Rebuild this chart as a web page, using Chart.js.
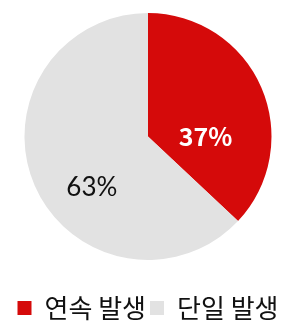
<!DOCTYPE html>
<html>
<head>
<meta charset="utf-8">
<script src="https://cdn.jsdelivr.net/npm/chart.js@4"></script>
<style>
  html, body { margin: 0; padding: 0; background: #fff; overflow: hidden; }
  /* 범례 아래 여백(10px)을 잘라내기 위해 캔버스를 조금 더 크게 */
  #wrap { width: 291px; height: 331px; }
</style>
</head>
<body>
<div id="wrap"><canvas id="pieChart"></canvas></div>
<script>
const categories = ['연속 발생', '단일 발생'];
const shares = [37, 63];
const sliceColors = ['#d50a0a', '#e2e2e2'];

// 조각 안쪽에 퍼센트 표시
const sliceLabels = {
    id: 'sliceLabels',
    afterDatasetsDraw(chart) {
        const ctx = chart.ctx;
        const arcs = chart.getDatasetMeta(0).data;
        // 반지름 대비 위치 (x, y)
        const spots = [[0.465, 0.0], [-0.455, 0.41]];
        arcs.forEach((arc, i) => {
            const r = arc.outerRadius;
            ctx.save();
            ctx.textAlign = 'center';
            ctx.textBaseline = 'middle';
            if (i === 0) {
                ctx.fillStyle = '#ffffff';
                ctx.font = 'bold 25px "Noto Sans CJK KR"';
            } else {
                ctx.fillStyle = '#111111';
                ctx.font = '26px Lato';
            }
            ctx.fillText(shares[i] + '%', arc.x + spots[i][0] * r, arc.y + spots[i][1] * r);
            ctx.restore();
        });
    }
};

document.addEventListener('DOMContentLoaded', () => {
    const ctx = document.getElementById('pieChart').getContext('2d');
    new Chart(ctx, {
        type: 'pie',
        data: {
            labels: categories,
            datasets: [{
                data: shares,
                backgroundColor: sliceColors,
                borderWidth: 0
            }]
        },
        options: {
            responsive: true,
            maintainAspectRatio: false,
            animation: false,
            layout: {
                padding: { top: 13, left: 5, right: 0, bottom: 0 }
            },
            plugins: {
                legend: {
                    position: 'bottom',
                    title: {
                        display: true,
                        text: '',
                        font: { size: 10 },
                        padding: { top: 0, bottom: 19 }
                    },
                    labels: {
                        boxWidth: 14,
                        boxHeight: 14,
                        padding: 4,
                        color: '#111',
                        font: { family: '"Noto Sans CJK KR"', size: 26 }
                    }
                },
                tooltip: { enabled: false }
            }
        },
        plugins: [sliceLabels]
    });
});
</script>
</body>
</html>
